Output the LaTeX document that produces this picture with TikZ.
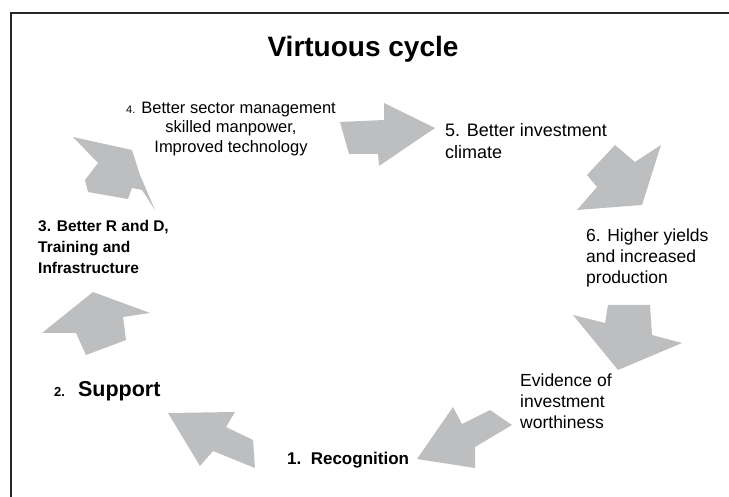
\documentclass[tikz,border=0pt]{standalone}
\usepackage{fontspec}
\setmainfont{Liberation Sans}
\definecolor{arrowgray}{HTML}{BDBEC0}
\begin{document}
\begin{tikzpicture}[x=1pt, y=-1pt,
    blk/.style={fill=arrowgray, draw=none},
    txt/.style={inner sep=0pt, align=left, anchor=west, font=\fontsize{17.5}{21}\selectfont},
    btxt/.style={txt, font=\bfseries\fontsize{17}{21}\selectfont}]
    \useasboundingbox (0,0) rectangle (729,497);
    \draw[line width=1.2pt, black!85] (729,13) -- (11,13) -- (11,497);
    \node[font=\bfseries\fontsize{28}{32}\selectfont] (title) at (363,49) {Virtuous cycle};
    % stages
    \node[txt, anchor=center, align=center, font=\fontsize{16.5}{19.5}\selectfont] (better4) at (231,129)
        {{\fontsize{11}{19.5}\selectfont 4.} Better sector management\\skilled manpower,\\Improved technology};
    \node[txt, font=\fontsize{18}{22}\selectfont] (better5) at (445,141) {5. Better investment\\climate};
    \node[txt] (higher6) at (586,258) {6. Higher yields\\and increased\\production};
    \node[btxt, font=\bfseries\fontsize{15.5}{21}\selectfont] (better3) at (38,247) {3. Better R and D,\\Training and\\Infrastructure};
    \node[btxt, font=\bfseries\fontsize{21.5}{21}\selectfont] (support2) at (54,391) {{\fontsize{13}{20}\selectfont 2.}\hspace*{13pt}Support};
    \node[txt] (evidence) at (520,401) {Evidence of\\investment\\worthiness};
    \node[btxt] (recog1) at (287,460) {1.\ \ Recognition};
    % block arrows
    \fill[blk] (73,137) -- (132,150) -- (140,175) -- (155,210) -- (142,190) -- (132,188)
        -- (128,199) -- (88,192) -- (85,180) -- (98,163) -- cycle;
    \fill[blk] (93,292) -- (150,313) -- (123,317) -- (126,340) -- (86,355) -- (76,333) -- (42,333) -- cycle;
    \fill[blk] (168,413) -- (235,412) -- (226,427) -- (253,440) -- (255,468) -- (213,451) -- (200,466) -- cycle;
    \fill[blk] (417,459) -- (453,407) -- (462,424) -- (490,410) -- (512,425) -- (475,447) -- (475,468) -- cycle;
    \fill[blk] (340,122) -- (384,120) -- (384,103) -- (435,128) -- (379,166) -- (378,154) -- (349,154) -- cycle;
    \fill[blk] (615,145) -- (635,162) -- (661,145) -- (642,205) -- (577,210) -- (597,187) -- (587,175) -- cycle;
    \fill[blk] (573,315) -- (605,323) -- (608,305) -- (650,305) -- (652,335) -- (682,343) -- (618,370) -- cycle;
\end{tikzpicture}
\end{document}
